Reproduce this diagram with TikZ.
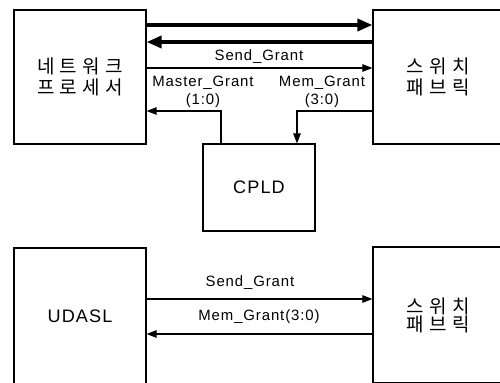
\documentclass[tikz,border=0pt]{standalone}
\usepackage{fontspec}
\setmainfont{Liberation Sans}[LetterSpace=6]
\newfontfamily\kr{Noto Sans CJK KR}[LetterSpace=28]
\usepackage{tikz}
\usetikzlibrary{arrows.meta}

\tikzset{
  caja/.style = {draw, line width=0.7pt, inner sep=0pt},
  bus/.style  = {line width=2pt, -{Triangle[length=3mm, width=2.4mm]}},
  senal/.style = {line width=0.6pt, -{Triangle[length=2mm, width=1.5mm]}},
  etiq/.style = {font=\fontsize{8.5}{10.3}\selectfont, inner sep=0pt}
}

\begin{document}
\begin{tikzpicture}[x=0.02cm, y=-0.02cm]
    % Marco de la figura
    \clip (0,0) rectangle (500,382);

    % Bloques superiores
    \node[caja, minimum width=2.64cm, minimum height=2.68cm, align=center,
          font=\kr\fontsize{10.8}{11.6}\selectfont] (np) at (80,77) {네트워크\\프로세서};
    \node[caja, minimum width=2.6cm, minimum height=2.68cm, align=center,
          font=\kr\fontsize{10.8}{11.6}\selectfont] (sw) at (438,77) {스위치\\패브릭};
    \node[caja, minimum width=2.24cm, minimum height=1.74cm,
          font=\fontsize{10.3}{12}\selectfont] (cpld) at (259,187.5) {CPLD};

    % Buses de datos
    \draw[bus] (np.east |- 0,25) -- (sw.west |- 0,25);
    \draw[bus] (sw.west |- 0,42) -- (np.east |- 0,42);

    % Senales de concesion
    \draw[senal] (np.east |- 0,68) -- (sw.west |- 0,68);
    \node[etiq] (sg1) at (259,57) {Send\_Grant};
    \draw[senal] (cpld.north -| 221,0) |- (np.east |- 0,111);
    \node[etiq, align=center] (mg) at (203,92) {Master\_Grant\\(1:0)};
    \draw[senal] (sw.west |- 0,111) -| (cpld.north -| 297,0);
    \node[etiq, align=center] (mmg) at (322,92) {Mem\_Grant\\(3:0)};

    % Bloques inferiores
    \node[caja, minimum width=2.64cm, minimum height=2.72cm,
          font=\fontsize{10.3}{12}\selectfont] (ud) at (80,316) {UDASL};
    \node[caja, minimum width=2.6cm, minimum height=2.72cm, align=center,
          font=\kr\fontsize{10.8}{10.2}\selectfont] (sw2) at (438,315) {스위치\\패브릭};

    \draw[senal] (ud.east |- 0,299) -- (sw2.west |- 0,299);
    \node[etiq] (sg2) at (250,283) {Send\_Grant};
    \draw[senal] (sw2.west |- 0,334) -- (ud.east |- 0,334);
    \node[etiq] (mg2) at (259,317) {Mem\_Grant(3:0)};

\end{tikzpicture}
\end{document}
